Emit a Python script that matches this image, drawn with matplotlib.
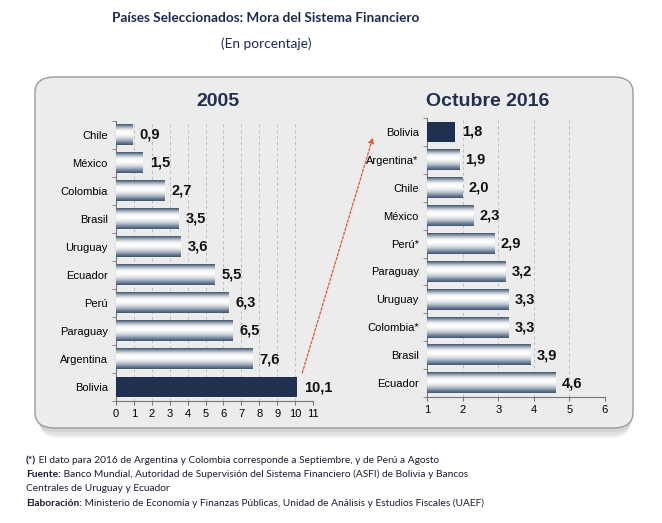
import numpy as np
import matplotlib
matplotlib.use("Agg")
import matplotlib.pyplot as plt
from matplotlib.patches import FancyBboxPatch, ConnectionPatch
from matplotlib.colors import LinearSegmentedColormap

# datos
paises_2005 = ["Chile", "México", "Colombia", "Brasil", "Uruguay", "Ecuador",
               "Perú", "Paraguay", "Argentina", "Bolivia"]
mora_2005 = [0.9, 1.5, 2.7, 3.5, 3.6, 5.5, 6.3, 6.5, 7.6, 10.1]

paises_2016 = ["Bolivia", "Argentina*", "Chile", "México", "Perú*", "Paraguay",
               "Uruguay", "Colombia*", "Brasil", "Ecuador"]
mora_2016 = [1.8, 1.9, 2.0, 2.3, 2.9, 3.2, 3.3, 3.3, 3.9, 4.6]

ticks_2005 = list(range(0, 12))
ticks_2016 = list(range(1, 7))

W, H = 662, 523
fig = plt.figure(figsize=(W / 100, H / 100), dpi=100)
fig.patch.set_facecolor("white")

def fx(px):
    return px / W

def fy(py):
    return 1 - py / H

navy = "#1f3050"
# degradado de abajo hacia arriba
barra = LinearSegmentedColormap.from_list(
    "barra", ["#3f5570", "#7d8ea3", "#c3cad3", "#eef0f2", "#ffffff", "#f4f5f6", "#aab4c1", "#3f5570"])

# panel de fondo con sombra
for i, a in enumerate([0.05, 0.05, 0.06, 0.07]):
    off = 4 + i * 2
    sh = FancyBboxPatch((fx(37 + i), fy(428 + off)), fx(596 - 2 * i), fy(77) - fy(428),
                        boxstyle="round,pad=0,rounding_size=0.03",
                        transform=fig.transFigure, facecolor="#404040", edgecolor="none",
                        alpha=a, zorder=-3)
    fig.patches.append(sh)
panel = FancyBboxPatch((fx(35), fy(428)), fx(598), fy(77) - fy(428),
                       boxstyle="round,pad=0,rounding_size=0.03",
                       transform=fig.transFigure, facecolor="#ececec",
                       edgecolor="#9a9a9a", linewidth=1.0, zorder=-2)
fig.patches.append(panel)

fig.text(fx(266), fy(18), "Países Seleccionados: Mora del Sistema Financiero",
         ha="center", va="center", fontsize=9.8, fontweight="bold",
         color="#1c2a52", family="Lato")
fig.text(fx(266), fy(44), "(En porcentaje)", ha="center", va="center",
         fontsize=9.8, color="#1c2a52", family="Lato")


def dibujar(ax, paises, valores, xlim, ticks, titulo, tx):
    n = len(paises)
    ys = np.arange(n)[::-1]
    h = 0.74
    grad = np.linspace(0, 1, 50).reshape(-1, 1)
    for p, v, y in zip(paises, valores, ys):
        if p == "Bolivia":
            ax.barh(y, v - xlim[0], left=xlim[0], height=h, color=navy, zorder=3)
        else:
            ax.imshow(grad, extent=[xlim[0], v, y - h / 2, y + h / 2], origin="lower",
                      aspect="auto", cmap=barra, zorder=3, interpolation="bicubic")
        ax.text(v + (xlim[1] - xlim[0]) * 0.035, y, f"{v:.1f}".replace(".", ","),
                va="center", ha="left", fontsize=10.5, fontweight="bold",
                color="#111111", family="Liberation Sans", zorder=4)
    ax.set_xlim(*xlim)
    ax.set_ylim(-0.5, n - 0.5)
    ax.set_yticks(ys)
    ax.set_yticklabels(paises, fontsize=8, family="Liberation Sans")
    ax.set_yticks(np.arange(n + 1) - 0.5, minor=True)
    ax.tick_params(axis="y", which="major", length=0, pad=6)
    ax.tick_params(axis="y", which="minor", length=3, color="#777777", direction="out")
    ax.set_xticks(ticks)
    ax.set_xticklabels([str(t) for t in ticks], fontsize=8, family="Liberation Sans")
    ax.tick_params(axis="x", length=3, color="#777777", pad=3)
    ax.grid(axis="x", linestyle=(0, (3, 3)), color="#bdbdbd", linewidth=0.7, zorder=0)
    ax.set_axisbelow(True)
    ax.set_facecolor("none")
    for s in ["top", "right"]:
        ax.spines[s].set_visible(False)
    for s in ["left", "bottom"]:
        ax.spines[s].set_color("#777777")
        ax.spines[s].set_linewidth(0.8)
    fig.text(fx(tx), fy(102), titulo, ha="center", va="center", fontsize=14,
             fontweight="bold", color=navy, family="Liberation Sans")


ax1 = fig.add_axes([fx(116), fy(401), fx(313) - fx(116), fy(121) - fy(401)])
dibujar(ax1, paises_2005, mora_2005, (0, 11), ticks_2005, "2005", 218)

ax2 = fig.add_axes([fx(427), fy(397), fx(605) - fx(427), fy(118) - fy(397)])
dibujar(ax2, paises_2016, mora_2016, (1, 6), ticks_2016, "Octubre 2016", 488)

# flecha entre Bolivia 2005 y Bolivia 2016
flecha = ConnectionPatch(xyA=(10.4, 0.5), coordsA=ax1.transData,
                         xyB=(-0.52, 8.8), coordsB=ax2.transData,
                         arrowstyle="-|>", mutation_scale=8, color="#e0562e",
                         linestyle=(0, (2, 1.5)), linewidth=0.9, zorder=5)
fig.add_artist(flecha)

# notas
nota_col = "#1a1a33"
nota_font = "Lato"
nota_fs = 7.3
lineas = [
    ("(*)", " El dato para 2016 de Argentina y Colombia corresponde a Septiembre, y de Perú a Agosto"),
    ("Fuente:", " Banco Mundial, Autoridad de Supervisión del Sistema Financiero (ASFI) de Bolivia y Bancos"),
    ("", "Centrales de Uruguay y Ecuador"),
    ("Elaboración:", " Ministerio de Economía y Finanzas Públicas, Unidad de Análisis y Estudios Fiscales (UAEF)"),
]
renderer = fig.canvas.get_renderer()
y0 = 463
for i, (neg, resto) in enumerate(lineas):
    yy = fy(y0 + i * 14.2)
    x = 26
    if neg:
        t = fig.text(fx(x), yy, neg, ha="left", va="baseline", fontsize=nota_fs,
                     fontweight="bold", color=nota_col, family=nota_font)
        x += t.get_window_extent(renderer).width
    fig.text(fx(x), yy, resto, ha="left", va="baseline", fontsize=nota_fs,
             color=nota_col, family=nota_font)

fig.savefig("out.png", dpi=100, facecolor=fig.get_facecolor())
